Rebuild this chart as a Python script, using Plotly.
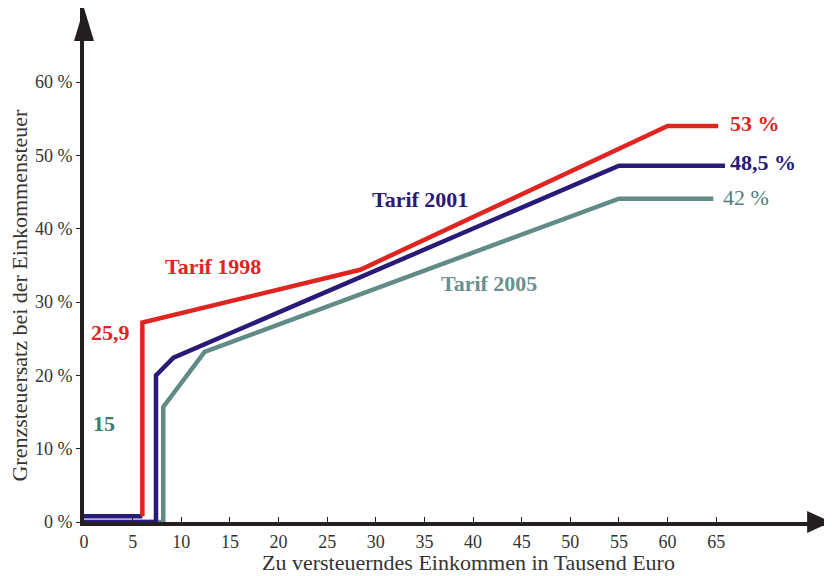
import plotly.graph_objects as go

# Tarif 1998 (der Nullabschnitt ist im Original dunkelblau gezeichnet)
x_1998 = [6.0, 6.0, 28.4, 60.0, 65.2]
y_1998 = [0.8, 27.2, 34.4, 54.0, 54.0]
x_1998_null = [0, 6.0]
y_1998_null = [0.8, 0.8]

x_2001 = [0, 7.4, 7.4, 9.2, 55.0, 65.9]
y_2001 = [0, 0, 20.0, 22.4, 48.6, 48.6]

x_2005 = [0, 8.15, 8.15, 12.4, 55.0, 64.7]
y_2005 = [0, 0, 15.7, 23.2, 44.1, 44.1]

x_ticks = list(range(0, 70, 5))
y_ticks = [0, 10, 20, 30, 40, 50, 60]
y_ticktext = [f"{v} %" for v in y_ticks]

red = "#e0241f"
navy = "#2a1a78"
teal = "#608b87"
axis_col = "#231f20"
text_col = "#333333"
serif = "Liberation Serif, Times New Roman, serif"

fig = go.Figure()
fig.add_trace(go.Scatter(x=x_2005, y=y_2005, mode="lines",
                         line=dict(color=teal, width=4.5), showlegend=False))
fig.add_trace(go.Scatter(x=x_2001, y=y_2001, mode="lines",
                         line=dict(color=navy, width=4.5), showlegend=False))
fig.add_trace(go.Scatter(x=x_1998_null, y=y_1998_null, mode="lines",
                         line=dict(color=navy, width=4.5), showlegend=False))
fig.add_trace(go.Scatter(x=x_1998, y=y_1998, mode="lines",
                         line=dict(color=red, width=4.5), showlegend=False))

labels = [
    (13.3, 34.9, "<b>Tarif 1998</b>", red),
    (34.5, 44.0, "<b>Tarif 2001</b>", navy),
    (41.6, 32.5, "<b>Tarif 2005</b>", "#6b908d"),
    (2.7, 25.8, "<b>25,9</b>", red),
    (2.1, 13.5, "<b>15</b>", "#3f7a70"),
    (69.0, 54.3, "<b>53 %</b>", red),
    (69.8, 49.0, "<b>48,5 %</b>", navy),
    (68.1, 44.3, "42 %", "#4f7f7a"),
]
for x, y, txt, col in labels:
    fig.add_annotation(x=x, y=y, text=txt, showarrow=False,
                       font=dict(family=serif, size=22, color=col))

# Achsentitel
fig.add_annotation(xref="paper", yref="paper", x=0.515, y=-0.079,
                   text="Zu versteuerndes Einkommen in Tausend Euro",
                   showarrow=False, yanchor="middle",
                   font=dict(family=serif, size=22, color=text_col))
fig.add_annotation(xref="paper", yref="paper", x=-0.086, y=0.442,
                   text="Grenzsteuersatz bei der Einkommensteuer",
                   showarrow=False, textangle=-90, xanchor="center",
                   font=dict(family=serif, size=22, color=text_col))

# Pfeilspitzen der Achsen
fig.add_shape(type="path", xref="paper", yref="paper",
              path="M -0.0134 0.936 L 0 1 L 0.0134 0.936 Z",
              fillcolor=axis_col, line=dict(width=0))
fig.add_shape(type="path", xref="paper", yref="paper",
              path="M 0.968 0.0214 L 1 0 L 0.968 -0.0214 Z",
              fillcolor=axis_col, line=dict(width=0))

fig.update_layout(
    width=824, height=568,
    margin=dict(l=76, r=1, t=0, b=54, autoexpand=False),
    plot_bgcolor="white", paper_bgcolor="white",
    font=dict(family=serif, color=text_col),
    showlegend=False,
)
fig.update_xaxes(
    range=[0, 76.8], tickvals=x_ticks, showgrid=False, zeroline=False,
    showline=True, linecolor=axis_col, linewidth=4, automargin=False,
    ticks="inside", ticklen=5, tickcolor=axis_col, tickwidth=1,
    tickfont=dict(family=serif, size=18, color=text_col),
)
fig.update_yaxes(
    range=[0, 70.1], tickvals=y_ticks, ticktext=y_ticktext, showgrid=False,
    zeroline=False, showline=True, linecolor=axis_col, linewidth=4,
    automargin=False,
    ticks="outside", ticklen=4, tickcolor=axis_col, tickwidth=1,
    tickfont=dict(family=serif, size=18, color=text_col),
)

fig.write_html("out.html")
